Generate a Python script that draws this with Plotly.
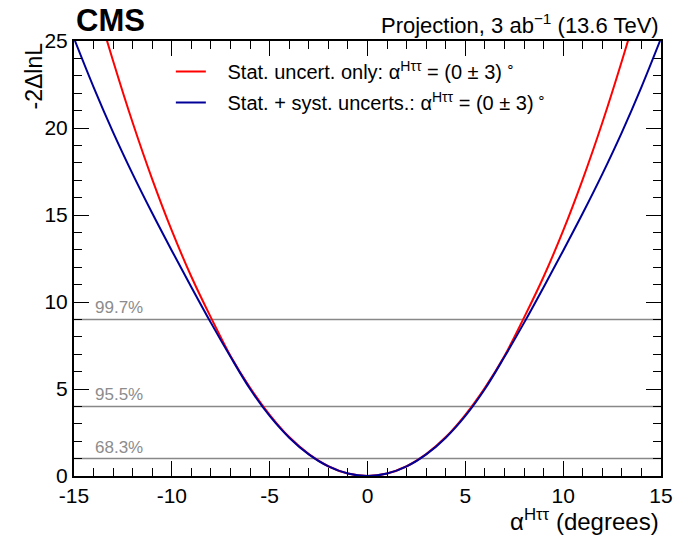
import plotly.graph_objects as go

# ---- data ----
alpha = [-15, -14, -13, -12, -11, -10, -9, -8, -7, -6, -5, -4, -3, -2, -1, 0,
         1, 2, 3, 4, 5, 6, 7, 8, 9, 10, 11, 12, 13, 14, 15]
nll_stat = [31.7, 27.65, 23.85, 20.3, 17.05, 14.1, 11.45, 9.1, 6.9, 5.07, 3.52, 2.24, 1.26, 0.56, 0.14, 0.0,
            0.14, 0.56, 1.26, 2.24, 3.52, 5.07, 6.9, 9.1, 11.45, 14.1, 17.05, 20.3, 23.85, 27.65, 31.7]
nll_syst = [25.15, 22.35, 19.75, 17.35, 15.1, 12.95, 10.85, 8.8, 6.85, 5.0, 3.45, 2.2, 1.24, 0.55, 0.14, 0.0,
            0.14, 0.55, 1.24, 2.2, 3.45, 5.0, 6.85, 8.8, 10.85, 12.95, 15.1, 17.35, 19.75, 22.35, 25.15]
cl_levels = [1, 4, 9]
cl_labels = ["68.3%", "95.5%", "99.7%"]
x_ticks = [-15, -10, -5, 0, 5, 10, 15]
x_ticktext = ["-15", "-10", "-5", "0", "5", "10", "15"]
y_ticks = [0, 5, 10, 15, 20, 25]
y_ticktext = ["0", "5", "10", "15", "20", "25"]
name_stat = "\u00a0\u00a0\u00a0Stat. uncert. only: α<sup>Hττ</sup> = (0 ± 3)<sup> ∘</sup>"
name_syst = "\u00a0\u00a0\u00a0Stat. + syst. uncerts.: α<sup>Hττ</sup> = (0 ± 3)<sup> ∘</sup>"

FONT = "Liberation Sans, Arial, Helvetica, sans-serif"

fig = go.Figure()
fig.add_trace(go.Scatter(x=alpha, y=nll_stat, mode="lines", name=name_stat,
                         line=dict(color="#ff0000", width=2, shape="spline"),
                         legendgroup="a"))
fig.add_trace(go.Scatter(x=alpha, y=nll_syst, mode="lines", name=name_syst,
                         line=dict(color="#000099", width=2, shape="spline"),
                         legendgroup="b"))

for lv, lab in zip(cl_levels, cl_labels):
    fig.add_shape(type="line", xref="x domain", yref="y", x0=0, x1=1, y0=lv, y1=lv,
                  line=dict(color="#888888", width=1.5), layer="below")
    fig.add_annotation(xref="x domain", yref="y", x=0.033, y=lv, text=lab,
                       showarrow=False, xanchor="left", yanchor="bottom", yshift=0,
                       font=dict(family=FONT, size=17, color="#8c8c8c"))

axis_common = dict(showgrid=False, zeroline=False, showline=True, linecolor="black",
                   linewidth=2, mirror="ticks", ticks="inside", tickcolor="black",
                   tickwidth=1, ticklen=15, automargin=False,
                   tickfont=dict(family=FONT, size=21, color="black"))

fig.update_xaxes(range=[-15, 15], tickvals=x_ticks, ticktext=x_ticktext,
                 minor=dict(dtick=1, ticks="inside", ticklen=8, tickcolor="black", tickwidth=1),
                 **axis_common)
fig.update_yaxes(range=[0, 25], tickvals=y_ticks, ticktext=y_ticktext,
                 minor=dict(dtick=1, ticks="inside", ticklen=8, tickcolor="black", tickwidth=1),
                 **axis_common)

fig.add_annotation(xref="paper", yref="paper", x=0, y=1, yshift=1, text="<b>CMS</b>",
                   showarrow=False, xanchor="left", yanchor="bottom",
                   font=dict(family=FONT, size=31, color="black"))
fig.add_annotation(xref="paper", yref="paper", x=1, y=1, yshift=1,
                   text="Projection, 3 ab<sup>−1</sup> (13.6 TeV)",
                   showarrow=False, xanchor="right", yanchor="bottom",
                   font=dict(family=FONT, size=22, color="black"))
fig.add_annotation(xref="paper", yref="paper", x=1, y=0, yshift=-27,
                   text="α<sup>Hττ</sup> (degrees)",
                   showarrow=False, xanchor="right", yanchor="top",
                   font=dict(family=FONT, size=24, color="black"))
fig.add_annotation(xref="paper", yref="paper", x=0, xshift=-56, y=1,
                   text="-2ΔlnL", textangle=-90,
                   showarrow=False, xanchor="left", yanchor="top",
                   font=dict(family=FONT, size=23, color="black"))

fig.update_layout(
    width=673, height=543,
    margin=dict(l=74, r=12, t=41, b=67),
    plot_bgcolor="white", paper_bgcolor="white",
    showlegend=True,
    legend=dict(x=0.165, y=0.975, xanchor="left", yanchor="top",
                bgcolor="rgba(0,0,0,0)", tracegroupgap=2,
                font=dict(family=FONT, size=20, color="black")),
)

fig.write_html("out.html", config={"displayModeBar": False},
               post_script="document.body.style.margin='0px';")
